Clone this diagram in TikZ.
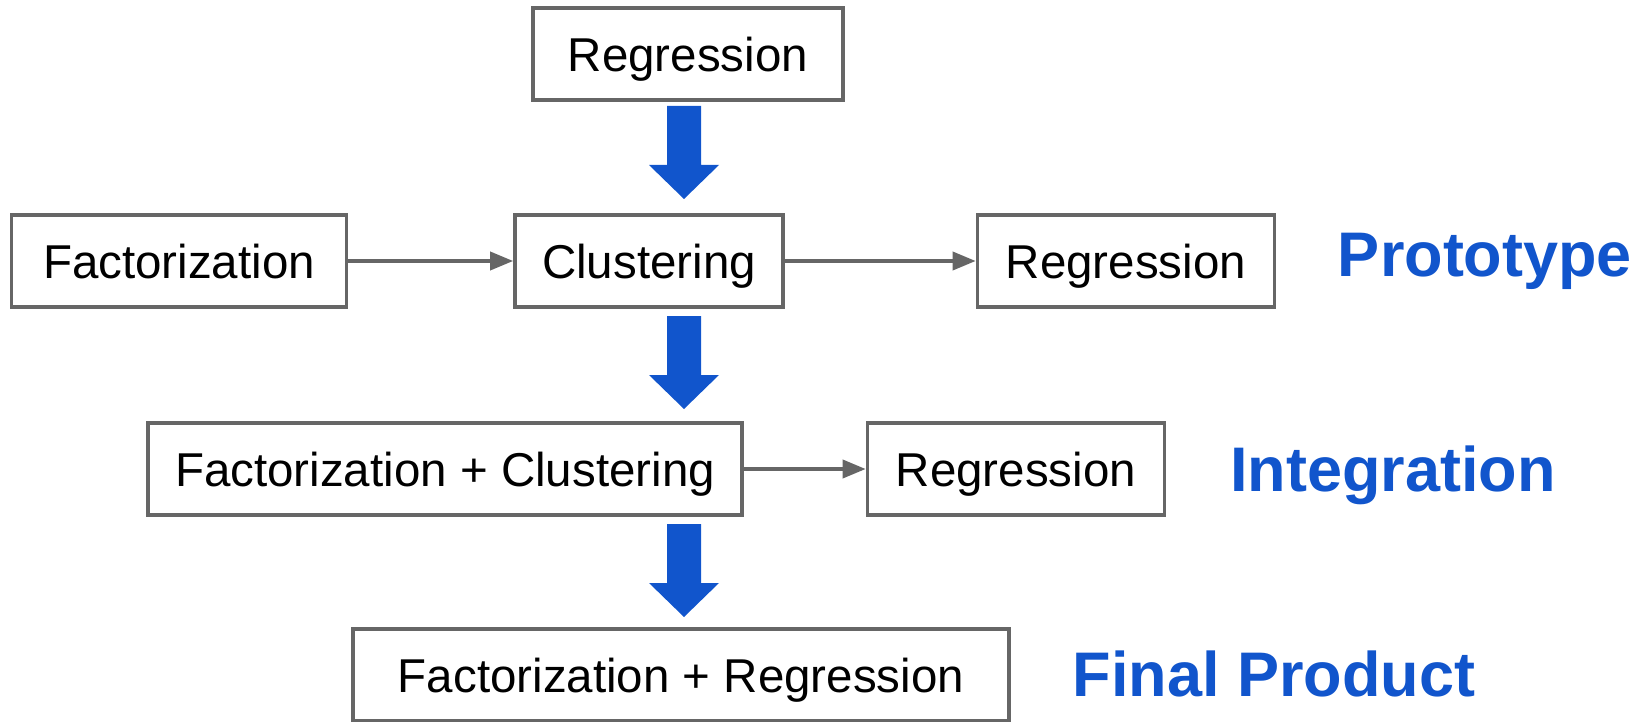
\documentclass[tikz,border=0pt]{standalone}
\usepackage{fontspec}
\setmainfont{Liberation Sans}
\usetikzlibrary{arrows.meta}

\definecolor{boxgray}{HTML}{666666}
\definecolor{stageblue}{HTML}{1155CC}

\tikzset{
  stage/.style={draw=boxgray, line width=1.8pt, fill=white, minimum height=46pt,
    inner sep=0pt, text depth=0pt, font=\fontsize{23.75}{28}\selectfont},
  flow/.style={draw=boxgray, line width=1.8pt, -{Triangle[length=11.5pt,width=9pt]}},
  phase/.style={text=stageblue, inner sep=0pt, text depth=0pt,
    font=\fontsize{31.5}{36}\selectfont\bfseries},
}

\begin{document}
\begin{tikzpicture}[x=0.5pt,y=0.5pt,yscale=-1,xscale=1]
\useasboundingbox (0,0) rectangle (1646,722);

% Row 1
\node[stage, minimum width=155pt] (regtop) at (688,54) {Regression};

% Row 2: prototype
\node[stage, minimum width=167.5pt] (fact) at (179,261) {Factorization};
\node[stage, minimum width=134pt] (clus) at (649,261) {Clustering};
\node[stage, minimum width=148.5pt] (regproto) at (1126,261) {Regression};

% Row 3: integration
\node[stage, minimum width=297pt] (factclus) at (445,469) {Factorization + Clustering};
\node[stage, minimum width=148.5pt] (reginteg) at (1016,469) {Regression};

% Row 4: final product
\node[stage, minimum width=328pt] (factreg) at (681,675) {Factorization + Regression};

% Thin connectors
\draw[flow] (fact) -- (clus);
\draw[flow] (clus) -- (regproto);
\draw[flow] (factclus) -- (reginteg);

% Big blue arrows between rows
\foreach \t in {106,316,524}
  \fill[stageblue] (667,\t) -- (701,\t) -- (701,\t+59) -- (719,\t+59) -- (684,\t+93)
    -- (649,\t+59) -- (667,\t+59) -- cycle;

% Stage labels
\node[phase] (proto) at (1485,255) {Prototype};
\node[phase] (integ) at (1393,469) {Integration};
\node[phase] (final) at (1274,674) {Final Product};

\end{tikzpicture}
\end{document}
